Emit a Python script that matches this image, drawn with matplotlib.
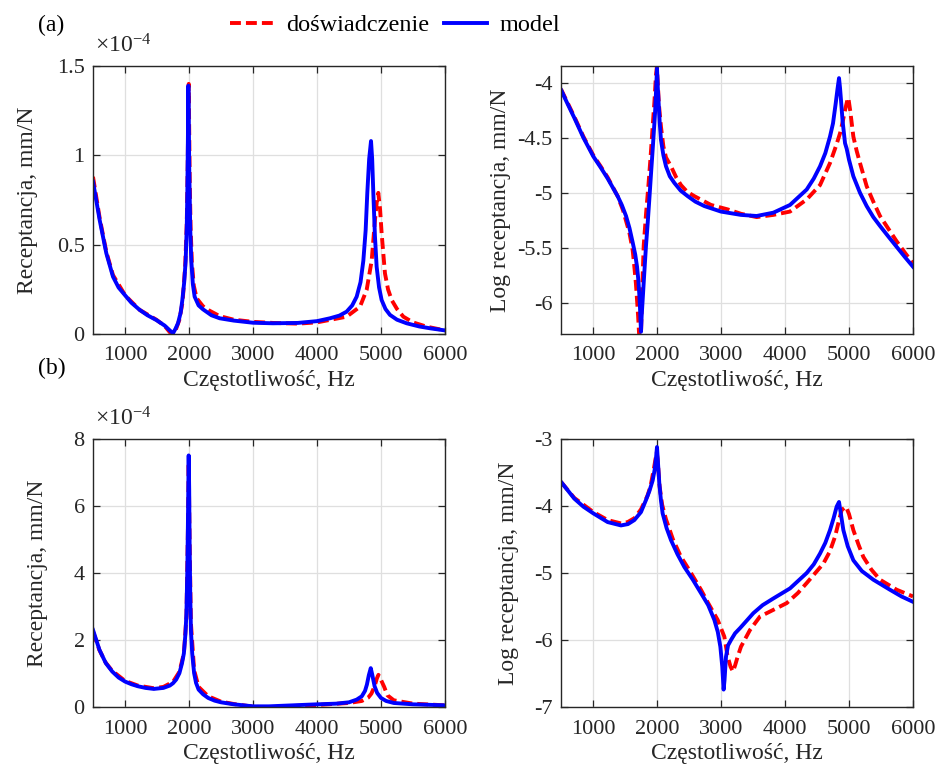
import numpy as np
import matplotlib.pyplot as plt

plt.rcParams["font.family"] = ["Liberation Serif", "DejaVu Serif"]
plt.rcParams["mathtext.fontset"] = "custom"
plt.rcParams["mathtext.rm"] = "Liberation Serif"
plt.rcParams["mathtext.it"] = "Liberation Serif:italic"

# (a) receptance, units of 1e-4 mm/N
a_f_mod = [500, 604, 708, 812, 900, 1005, 1100, 1229, 1350, 1490, 1620, 1700, 1750, 1790,
           1828, 1870, 1896, 1925, 1948, 1965, 1974, 1983, 1990, 1997, 2003, 2010, 2020,
           2036, 2060, 2088, 2150, 2219, 2350, 2479, 2700, 3000, 3312, 3700, 4000, 4203,
           4350, 4463, 4550, 4620, 4680, 4724, 4760, 4786, 4815, 4844, 4862, 4880, 4905,
           4932, 4970, 5010, 5070, 5140, 5250, 5400, 5600, 5766, 6000]
a_lin_mod = [0.853, 0.638, 0.452, 0.321, 0.26, 0.215, 0.175, 0.135, 0.105, 0.078, 0.047,
             0.02, 0.004, 0.03, 0.06, 0.12, 0.19, 0.29, 0.41, 0.60, 0.79, 1.10, 1.39, 1.20,
             0.95, 0.79, 0.58, 0.41, 0.28, 0.209, 0.16, 0.138, 0.105, 0.088, 0.075, 0.063,
             0.060, 0.062, 0.072, 0.088, 0.103, 0.125, 0.16, 0.209, 0.29, 0.41, 0.58, 0.79,
             0.98, 1.08, 0.98, 0.79, 0.55, 0.376, 0.26, 0.19, 0.14, 0.107, 0.08, 0.06,
             0.042, 0.032, 0.02]
a_f_exp = [500, 604, 708, 812, 1005, 1229, 1490, 1620, 1700, 1730, 1790, 1850, 1900, 1940,
           1965, 1980, 1990, 1996, 2003, 2012, 2025, 2045, 2075, 2120, 2219, 2323, 2480,
           2700, 3000, 3312, 3700, 4000, 4203, 4463, 4672, 4776, 4854, 4906, 4940, 4958,
           4985, 5010, 5062, 5110, 5167, 5250, 5349, 5500, 5714, 6000]
a_lin_exp = [0.88, 0.65, 0.46, 0.33, 0.215, 0.135, 0.08, 0.045, 0.01, 0.0, 0.02, 0.08, 0.18,
             0.38, 0.62, 0.95, 1.30, 1.40, 1.15, 0.85, 0.60, 0.40, 0.27, 0.20, 0.155, 0.13,
             0.10, 0.08, 0.068, 0.062, 0.058, 0.065, 0.079, 0.097, 0.153, 0.247, 0.41,
             0.638, 0.76, 0.79, 0.70, 0.563, 0.339, 0.25, 0.19, 0.14, 0.097, 0.065, 0.041,
             0.02]

# (a) log10 receptance
a_f_log_mod = [500, 600, 708, 850, 1005, 1120, 1229, 1385, 1450, 1516, 1570, 1620, 1660,
               1688, 1710, 1729, 1742, 1750, 1760, 1776, 1800, 1828, 1855, 1880, 1905,
               1932, 1950, 1969, 1985, 2000, 2012, 2026, 2042, 2062, 2100, 2141, 2200,
               2271, 2370, 2479, 2600, 2740, 3000, 3312, 3557, 3818, 4078, 4339, 4450,
               4547, 4630, 4703, 4750, 4792, 4820, 4844, 4860, 4875, 4900, 4938, 4964,
               5000, 5068, 5172, 5276, 5380, 5484, 5620, 5745, 5870, 6000]
a_log_mod = [-4.066, -4.19, -4.32, -4.50, -4.67, -4.77, -4.87, -5.03, -5.11, -5.21, -5.32,
             -5.45, -5.56, -5.67, -5.80, -5.97, -6.15, -6.26, -6.12, -5.97, -5.74, -5.48,
             -5.27, -5.06, -4.84, -4.61, -4.45, -4.28, -4.08, -3.87, -4.04, -4.19, -4.36,
             -4.52, -4.66, -4.76, -4.85, -4.91, -4.98, -5.03, -5.08, -5.12, -5.17, -5.20,
             -5.21, -5.18, -5.11, -4.97, -4.87, -4.76, -4.64, -4.49, -4.37, -4.19, -4.06,
             -3.96, -4.05, -4.16, -4.35, -4.55, -4.60, -4.70, -4.85, -5.00, -5.12, -5.22,
             -5.30, -5.40, -5.49, -5.58, -5.67]
a_f_log_exp = [500, 600, 708, 850, 1005, 1120, 1229, 1385, 1470, 1568, 1620, 1646, 1670,
               1688, 1705, 1720, 1735, 1750, 1765, 1792, 1830, 1865, 1900, 1932, 1960,
               1984, 1998, 2010, 2030, 2062, 2100, 2141, 2219, 2300, 2375, 2470, 2583,
               2844, 3104, 3312, 3557, 3818, 4078, 4339, 4547, 4703, 4800, 4860, 4900,
               4938, 4970, 4990, 5020, 5068, 5120, 5172, 5276, 5380, 5484, 5620, 5745,
               5870, 6000]
a_log_exp = [-4.06, -4.18, -4.31, -4.49, -4.66, -4.76, -4.86, -5.03, -5.16, -5.36, -5.52,
             -5.67, -5.82, -5.97, -6.12, -6.28, -6.45, -6.28, -5.95, -5.48, -5.18, -4.94,
             -4.67, -4.40, -4.17, -3.93, -3.86, -3.98, -4.20, -4.40, -4.58, -4.68, -4.76,
             -4.86, -4.93, -4.99, -5.03, -5.11, -5.15, -5.19, -5.22, -5.20, -5.17, -5.06,
             -4.93, -4.73, -4.57, -4.46, -4.36, -4.25, -4.17, -4.14, -4.26, -4.49, -4.62,
             -4.73, -4.94, -5.08, -5.21, -5.33, -5.44, -5.54, -5.64]

# (b) receptance, units of 1e-4 mm/N
b_f_mod = [500, 600, 700, 800, 900, 1000, 1100, 1200, 1320, 1450, 1600, 1700, 1750, 1800,
           1850, 1890, 1920, 1945, 1960, 1975, 1985, 1995, 2003, 2010, 2020, 2030, 2050,
           2080, 2110, 2150, 2220, 2300, 2400, 2500, 2700, 3000, 3250, 3500, 4000, 4300,
           4500, 4620, 4700, 4750, 4780, 4810, 4840, 4865, 4900, 4940, 5000, 5080, 5200,
           5500, 6000]
b_lin_mod = [2.30, 1.71, 1.31, 1.06, 0.88, 0.76, 0.68, 0.62, 0.57, 0.54, 0.57, 0.64, 0.71,
             0.82, 1.01, 1.30, 1.60, 2.20, 2.80, 4.20, 5.78, 7.51, 6.50, 4.78, 3.30, 2.30,
             1.60, 1.01, 0.72, 0.52, 0.38, 0.27, 0.19, 0.14, 0.08, 0.02, 0.02, 0.04, 0.08,
             0.10, 0.14, 0.22, 0.32, 0.48, 0.67, 0.95, 1.16, 0.95, 0.62, 0.42, 0.27, 0.18,
             0.12, 0.08, 0.05]
b_f_exp = [500, 600, 700, 800, 1000, 1200, 1450, 1600, 1750, 1850, 1920, 1960, 1985, 1995,
           2010, 2030, 2080, 2150, 2300, 2500, 2700, 3000, 3250, 3500, 4000, 4500, 4700,
           4800, 4850, 4900, 4935, 4960, 4990, 5050, 5100, 5200, 5500, 6000]
b_lin_exp = [2.25, 1.70, 1.32, 1.08, 0.78, 0.64, 0.56, 0.60, 0.75, 1.05, 1.60, 2.70, 5.50,
             7.30, 4.90, 2.50, 1.10, 0.60, 0.32, 0.16, 0.09, 0.01, -0.01, 0.02, 0.06, 0.12,
             0.18, 0.28, 0.40, 0.62, 0.85, 0.96, 0.85, 0.60, 0.35, 0.20, 0.10, 0.05]

# (b) log10 receptance
b_f_log_mod = [500, 600, 708, 850, 1005, 1229, 1437, 1546, 1646, 1750, 1828, 1880, 1932,
               1965, 1985, 2000, 2015, 2036, 2060, 2088, 2150, 2219, 2320, 2427, 2560,
               2687, 2800, 2896, 2950, 2990, 3020, 3041, 3055, 3078, 3110, 3156, 3220,
               3300, 3505, 3650, 3818, 4078, 4339, 4450, 4547, 4630, 4703, 4760, 4807,
               4844, 4875, 4912, 4980, 5068, 5200, 5380, 5640, 5820, 6000]
b_log_mod = [-3.64, -3.76, -3.89, -4.01, -4.11, -4.24, -4.29, -4.27, -4.21, -4.09, -3.91,
             -3.78, -3.62, -3.45, -3.28, -3.12, -3.35, -3.66, -3.90, -4.11, -4.33, -4.51,
             -4.72, -4.91, -5.10, -5.30, -5.48, -5.70, -5.88, -6.10, -6.40, -6.74, -6.60,
             -6.25, -6.08, -6.00, -5.90, -5.82, -5.60, -5.48, -5.38, -5.23, -5.00, -4.87,
             -4.71, -4.55, -4.36, -4.18, -4.01, -3.94, -4.13, -4.36, -4.60, -4.81, -4.97,
             -5.10, -5.25, -5.35, -5.43]
b_f_log_exp = [500, 708, 1005, 1229, 1437, 1542, 1650, 1750, 1850, 1900, 1950, 1980, 1995,
               2010, 2040, 2080, 2141, 2250, 2375, 2500, 2687, 2800, 2948, 3052, 3104,
               3150, 3187, 3220, 3260, 3312, 3453, 3609, 3818, 4026, 4200, 4339, 4599,
               4700, 4781, 4885, 4953, 5000, 5068, 5150, 5224, 5350, 5484, 5745, 6000]
b_log_exp = [-3.64, -3.88, -4.09, -4.21, -4.26, -4.24, -4.18, -4.05, -3.85, -3.70, -3.45,
             -3.28, -3.20, -3.30, -3.70, -3.98, -4.20, -4.50, -4.76, -4.95, -5.25, -5.45,
             -5.70, -5.95, -6.25, -6.40, -6.47, -6.38, -6.25, -6.10, -5.85, -5.65, -5.55,
             -5.45, -5.30, -5.15, -4.86, -4.68, -4.46, -4.06, -4.01, -4.12, -4.36, -4.58,
             -4.76, -4.95, -5.10, -5.25, -5.35]

xticks = [1000, 2000, 3000, 4000, 5000, 6000]
c_ax = "#262626"
xlabel = "Częstotliwość, Hz"

fig = plt.figure(figsize=(9.37, 7.69), dpi=100)
W, H = 937.0, 769.0


def make_ax(x0, y0, x1, y1):
    return fig.add_axes([x0 / W, 1 - y1 / H, (x1 - x0) / W, (y1 - y0) / H])


def style(ax):
    ax.set_xlim(500, 6000)
    ax.set_xticks(xticks)
    ax.grid(True, color="#dfdfdf", linewidth=0.9)
    ax.set_axisbelow(True)
    ax.tick_params(direction="in", top=True, right=True, labelsize=16,
                   colors=c_ax, length=5, width=0.9)
    ax.tick_params(axis="x", pad=9)
    ax.tick_params(axis="y", pad=6)
    for s in ax.spines.values():
        s.set_color(c_ax)
        s.set_linewidth(1.0)
    ax.set_xlabel(xlabel, fontsize=17, color=c_ax, labelpad=3)


axes = [make_ax(93, 66, 445, 334), make_ax(561, 66, 913, 334),
        make_ax(93, 439, 445, 707), make_ax(561, 439, 913, 707)]

series = [
    (a_f_exp, a_lin_exp, a_f_mod, a_lin_mod),
    (a_f_log_exp, a_log_exp, a_f_log_mod, a_log_mod),
    (b_f_exp, b_lin_exp, b_f_mod, b_lin_mod),
    (b_f_log_exp, b_log_exp, b_f_log_mod, b_log_mod),
]

for ax, (fe, ye, fm, ym) in zip(axes, series):
    ax.plot(fe, ye, color="#ff0000", linestyle=(0, (2.8, 1.3)), linewidth=2.8,
            label="doświadczenie")
    ax.plot(fm, ym, color="#0000ff", linewidth=2.8, label="model")
    style(ax)

axes[0].set_ylim(0, 1.5)
axes[0].set_yticks([0, 0.5, 1, 1.5])
axes[0].set_yticklabels(["0", "0.5", "1", "1.5"])
axes[0].set_ylabel("Receptancja, mm/N", fontsize=17, color=c_ax)
axes[0].yaxis.set_label_coords(-0.155, 0.5)

axes[1].set_ylim(-6.28, -3.85)
axes[1].set_yticks([-6, -5.5, -5, -4.5, -4])
axes[1].set_yticklabels(["-6", "-5.5", "-5", "-4.5", "-4"])
axes[1].set_ylabel("Log receptancja, mm/N", fontsize=17, color=c_ax)
axes[1].yaxis.set_label_coords(-0.142, 0.5)

axes[2].set_ylim(0, 8)
axes[2].set_yticks([0, 2, 4, 6, 8])
axes[2].set_yticklabels(["0", "2", "4", "6", "8"])
axes[2].set_ylabel("Receptancja, mm/N", fontsize=17, color=c_ax)
axes[2].yaxis.set_label_coords(-0.128, 0.5)

axes[3].set_ylim(-7, -3)
axes[3].set_yticks([-7, -6, -5, -4, -3])
axes[3].set_yticklabels(["-7", "-6", "-5", "-4", "-3"])
axes[3].set_ylabel("Log receptancja, mm/N", fontsize=17, color=c_ax)
axes[3].yaxis.set_label_coords(-0.119, 0.5)

for ax in (axes[0], axes[2]):
    ax.text(0.005, 1.03, r"$\times10^{-4}$", transform=ax.transAxes, fontsize=17,
            color=c_ax, ha="left", va="bottom")

fig.text(38 / W, 1 - 25 / H, "(a)", fontsize=17, va="center", ha="left")
fig.text(38 / W, 1 - 368 / H, "(b)", fontsize=17, va="center", ha="left")

handles, labels = axes[0].get_legend_handles_labels()
fig.legend(handles, labels, loc="center", bbox_to_anchor=(395 / W, 1 - 25 / H),
           ncol=2, frameon=False, fontsize=17.5, handlelength=1.8, columnspacing=0.6,
           handletextpad=0.5)

fig.savefig("out.png", dpi=100)
